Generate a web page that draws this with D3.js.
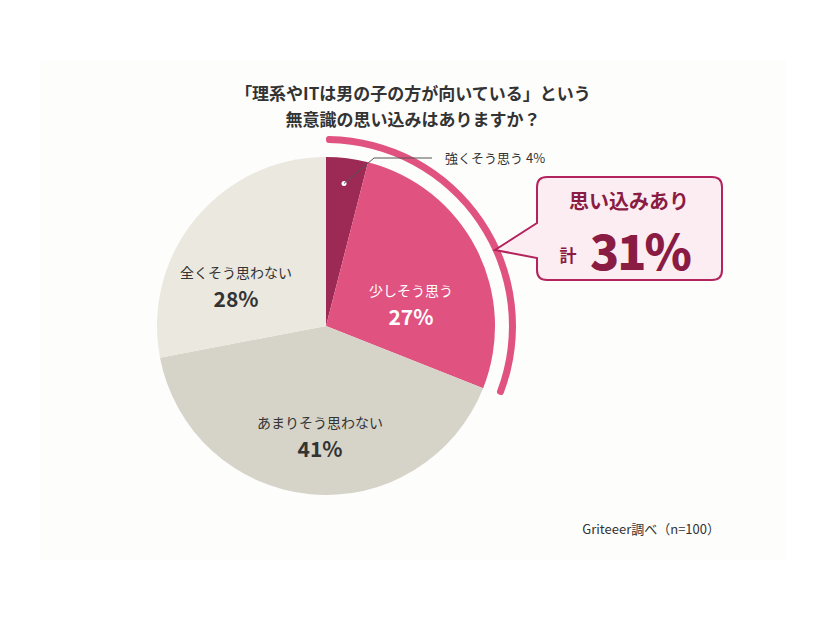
<!DOCTYPE html>
<html><head><meta charset="utf-8">
<script src="https://cdn.jsdelivr.net/npm/d3@7"></script>
<style>body{margin:0;background:#fff}text{font-family:"Noto Sans CJK JP",sans-serif}</style>
</head><body><svg id="c" width="826" height="620"></svg>
<script>
var labels = ["強くそう思う","少しそう思う","あまりそう思わない","全くそう思わない"];
var values = [4, 27, 41, 28];
var colors = ["#9c2a55","#e0527f","#d6d3c9","#ebe8df"];
var titleLines = ["「理系やITは男の子の方が向いている」という","無意識の思い込みはありますか？"];
var totalYes = 31;

var svg = d3.select("#c");
svg.append("rect").attr("x",40).attr("y",60).attr("width",746).attr("height",500).attr("fill","#fdfdfc");

svg.selectAll(".t").data(titleLines).enter().append("text")
    .attr("x",413).attr("y",(d,i)=>100+i*26).attr("text-anchor","middle")
    .attr("font-size",17).attr("font-weight",700).attr("fill","#333").text(d=>d);

var cx = 326, cy = 326, r = 169;
var g = svg.append("g").attr("transform","translate("+cx+","+cy+")");
var pie = d3.pie().sort(null).value(d=>d);
var arcs = pie(values);
var arc = d3.arc().innerRadius(0).outerRadius(r);
g.selectAll("path.s").data(arcs).enter().append("path")
    .attr("d",arc).attr("fill",(d,i)=>colors[i]);

// outer arc for "思い込みあり"
var yesEnd = arcs[1].endAngle;
g.append("path").attr("d",d3.arc().innerRadius(r+14).outerRadius(r+21).startAngle(0).endAngle(yesEnd).cornerRadius(3)())
    .attr("fill","#e0527f");

// labels
[1,2,3].forEach(function(i){
    var p = i==3 ? [-90,-48] : i==2 ? [-6,102] : [85,-30];
    var col = i==1 ? "#fff" : "#333";
    g.append("text").attr("x",p[0]).attr("y",p[1]).attr("text-anchor","middle")
        .attr("font-size",14).attr("fill",col).text(labels[i]);
    g.append("text").attr("x",p[0]).attr("y",p[1]+29).attr("text-anchor","middle")
        .attr("font-size",21).attr("font-weight",700).attr("fill",col).text(values[i]+"%");
});
// small-slice leader label
var m = d3.arc().innerRadius(r*0.85).outerRadius(r*0.85).centroid(arcs[0]);
g.append("circle").attr("cx",m[0]).attr("cy",m[1]).attr("r",2.5).attr("fill","#fff");
g.append("polyline").attr("points",[[m[0],m[1]],[m[0]+30,-168],[m[0]+88,-168]].join(" "))
    .attr("fill","none").attr("stroke","#555").attr("stroke-width",1);
svg.append("text").attr("x",445).attr("y",163).attr("font-size",13).attr("fill","#333")
    .text(labels[0]+" "+values[0]+"%");

// callout
var bx=537, by=177, bw=185, bh=103;
svg.append("path").attr("d","M"+(bx+10)+","+by+" H"+(bx+bw-10)+" Q"+(bx+bw)+","+by+" "+(bx+bw)+","+(by+10)+
    " V"+(by+bh-10)+" Q"+(bx+bw)+","+(by+bh)+" "+(bx+bw-10)+","+(by+bh)+" H"+(bx+10)+" Q"+bx+","+(by+bh)+" "+bx+","+(by+bh-10)+
    " V258 L495,250 L"+bx+",223 V"+(by+10)+" Q"+bx+","+by+" "+(bx+10)+","+by+"Z")
    .attr("fill","#fcedf2").attr("stroke","#b3235c").attr("stroke-width",2);
svg.append("text").attr("x",629).attr("y",209).attr("text-anchor","middle").attr("font-size",20)
    .attr("font-weight",700).attr("fill","#8a1c44").text("思い込みあり");
svg.append("text").attr("x",568).attr("y",262).attr("text-anchor","middle").attr("font-size",17)
    .attr("font-weight",700).attr("fill","#8a1c44").text("計");
svg.append("text").attr("x",640).attr("y",270).attr("text-anchor","middle").attr("font-size",48)
    .attr("font-weight",900).attr("fill","#8a1c44").attr("letter-spacing",-2).text(totalYes+"%");

svg.append("text").attr("x",720).attr("y",534).attr("text-anchor","end").attr("font-size",13)
    .attr("fill","#333").text("Griteeer調べ（n=100）");
</script></body></html>
